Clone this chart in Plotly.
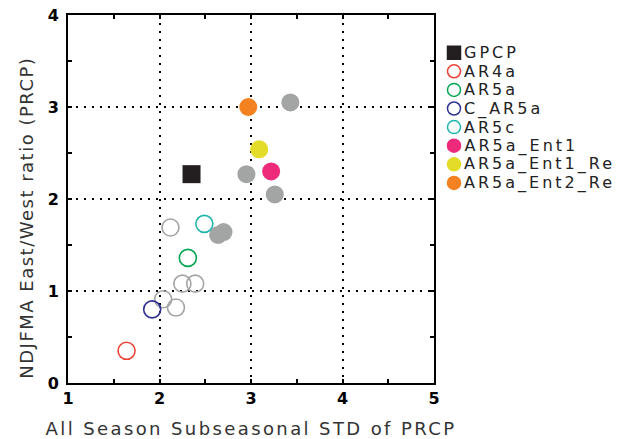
import plotly.graph_objects as go

# Observations
gpcp_x = [2.35]
gpcp_y = [2.27]

# Other model runs (gray): open = standard configs, filled = entrainment configs
gray_open_x = [2.12, 2.25, 2.39, 2.04, 2.18]
gray_open_y = [1.69, 1.08, 1.08, 0.91, 0.82]
gray_fill_x = [3.43, 2.95, 3.26, 2.64, 2.70]
gray_fill_y = [3.05, 2.27, 2.05, 1.61, 1.64]

# Highlighted experiments
series_names = ["AR4a", "AR5a", "C_AR5a", "AR5c",
                "AR5a_Ent1", "AR5a_Ent1_Re", "AR5a_Ent2_Re"]
series_x = [1.64, 2.31, 1.92, 2.49, 3.22, 3.09, 2.97]
series_y = [0.35, 1.36, 0.80, 1.73, 2.30, 2.54, 3.00]
series_colors = ["#ef4136", "#00a651", "#2e3192", "#1fb5ad",
                 "#ee2a7b", "#e3dc28", "#f58220"]
series_filled = [False, False, False, False, True, True, True]

x_ticks = [1, 2, 3, 4, 5]
y_ticks = [0, 1, 2, 3, 4]

GRAY = "#a3a5a5"
BLACK = "#231f20"
FONT = "DejaVu Sans"

W, H = 627, 439
ML, MR, MT, MB = 68, 0, 15, 56
PLOT_W = 366                      # width of the scatter panel in px
x_dom = PLOT_W / (W - ML - MR)
y_span = H - MT - MB

LEG_TRACK = 3.0                   # extra letter spacing (px) for legend labels

fig = go.Figure()

fig.add_trace(go.Scatter(
    x=gray_open_x, y=gray_open_y, mode="markers", showlegend=False,
    marker=dict(symbol="circle-open", size=17, color=GRAY, line=dict(width=1.6)),
))
fig.add_trace(go.Scatter(
    x=gray_fill_x, y=gray_fill_y, mode="markers", showlegend=False,
    marker=dict(symbol="circle", size=18, color=GRAY),
))
fig.add_trace(go.Scatter(
    x=gpcp_x, y=gpcp_y, mode="markers", name="GPCP", showlegend=False,
    marker=dict(symbol="square", size=18, color=BLACK),
))
for name, xv, yv, col, filled in zip(series_names, series_x, series_y,
                                     series_colors, series_filled):
    if filled:
        mk = dict(symbol="circle", size=18, color=col)
    else:
        mk = dict(symbol="circle-open", size=17, color=col, line=dict(width=1.6))
    fig.add_trace(go.Scatter(x=[xv], y=[yv], mode="markers", name=name,
                             marker=mk, showlegend=False))

# Legend key drawn on its own pixel-scaled axes to the right of the panel
leg_names = ["GPCP"] + series_names
leg_colors = [BLACK] + series_colors
leg_symbols = ["square"] + ["circle" if f else "circle-open" for f in series_filled]
leg_rows = list(range(len(leg_names)))
row_h = 18.6
first_row_px = 52.7
marker_px = 454
fig.add_trace(go.Scatter(
    x=[0] * len(leg_rows), y=leg_rows, mode="markers", showlegend=False,
    xaxis="x2", yaxis="y2", hoverinfo="skip",
    marker=dict(symbol=leg_symbols, size=13, color=leg_colors,
                line=dict(width=1.5, color=leg_colors)),
))
for r, name in zip(leg_rows, leg_names):
    # labels are centre-anchored, so tracking grows them both ways
    fig.add_annotation(x=9 + LEG_TRACK * len(name) / 2, y=r,
                       xref="x2", yref="y2", text=name,
                       showarrow=False, xanchor="left", yanchor="middle",
                       borderpad=0,
                       font=dict(family=FONT, size=16, color="#222"))

# Y-axis title as a rotated annotation
fig.add_annotation(
    text="NDJFMA East/West ratio (PRCP)", textangle=-90,
    xref="paper", yref="paper", showarrow=False,
    x=(27 - ML) / (W - ML - MR), y=(MT + y_span - 218) / y_span,
    xanchor="center", yanchor="middle",
    font=dict(family=FONT, size=18, color="#333"),
)

axis_common = dict(
    showline=True, linecolor="black", linewidth=2, mirror="ticks",
    ticks="inside", ticklen=4, tickwidth=1.5, tickcolor="black",
    showgrid=True, gridcolor="black", gridwidth=1.5, griddash="2px,6px",
    zeroline=False, automargin=False,
    tickfont=dict(family=FONT, size=16, color="black", weight="bold"),
    minor=dict(ticks="inside", ticklen=4, tickwidth=1.5, tickcolor="black",
               dtick=0.5, showgrid=False),
)

fig.update_layout(
    width=W, height=H,
    margin=dict(l=ML, r=MR, t=MT, b=MB),
    paper_bgcolor="white", plot_bgcolor="rgba(0,0,0,0)",
    showlegend=False,
    xaxis=dict(domain=[0, x_dom], range=[1, 5], tickvals=x_ticks,
               title=dict(text="All Season Subseasonal STD of PRCP",
                          font=dict(family=FONT, size=18, color="#333")),
               **axis_common),
    yaxis=dict(range=[0, 4], tickvals=y_ticks, ticklabelstandoff=4,
               **axis_common),
    xaxis2=dict(domain=[0, 1], anchor="y2", visible=False, fixedrange=True,
                range=[ML - marker_px, W - MR - marker_px]),
    yaxis2=dict(domain=[0, 1], anchor="x2", visible=False, fixedrange=True,
                range=[(MT + y_span - first_row_px) / row_h,
                       (MT - first_row_px) / row_h]),
)

# Wider tracking on the titles and legend labels
spacing_js = """
function track(){
  document.querySelectorAll('.xtitle').forEach(function(e){e.style.letterSpacing='2.4px';});
  var anns = document.querySelectorAll('.annotation-text');
  anns.forEach(function(e){
    e.style.letterSpacing = (e.textContent.indexOf('NDJFMA') === 0) ? '1.5px' : '%spx';
  });
}
track();
var gd = document.getElementById('{plot_id}');
if (gd && gd.on) { gd.on('plotly_afterplot', track); }
""" % LEG_TRACK

fig.write_html("out.html", post_script=spacing_js)
